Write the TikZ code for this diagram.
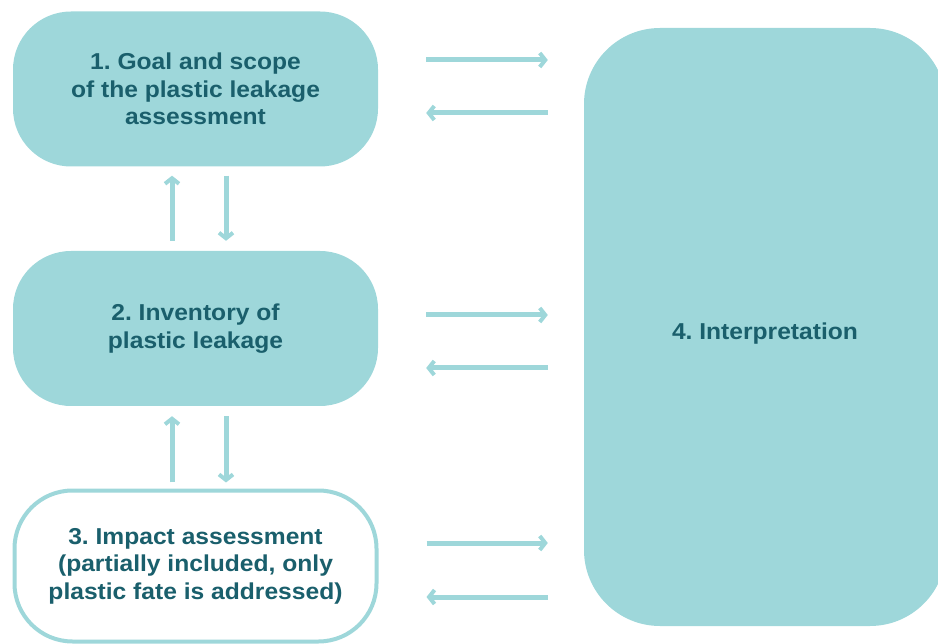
\documentclass[tikz,border=0pt]{standalone}
\usepackage{fontspec}
\setmainfont{Liberation Sans}[FakeStretch=1.07]
\usetikzlibrary{arrows.meta}
\definecolor{tealfill}{HTML}{9ED7DA}
\definecolor{tealtext}{HTML}{1A5F6C}
\frenchspacing
\tikzset{
  box/.style={rounded corners=58pt, minimum width=365pt, minimum height=155pt, inner sep=0pt,
    align=center, text=tealtext, font=\bfseries\fontsize{23pt}{27.5pt}\selectfont},
  filledbox/.style={box, fill=tealfill},
  outlinebox/.style={box, draw=tealfill, line width=4pt, fill=white, minimum width=362pt, minimum height=151pt},
  label4/.style={align=center, text=tealtext, font=\bfseries\fontsize{23pt}{27.5pt}\selectfont},
  flow/.style={draw=tealfill, line width=5pt, -{Straight Barb[length=5.5pt,width=14pt,line width=4pt]}},
}
\begin{document}
\begin{tikzpicture}[x=1pt,y=-1pt]
\useasboundingbox (0,0) rectangle (938,644);
\clip (0,0) rectangle (938,644);
\node[filledbox] (n1) at (195.5,89) {1. Goal and scope\\of the plastic leakage\\assessment};
\node[filledbox] (n2) at (195.5,328.5) {2. Inventory of\\plastic leakage};
\node[outlinebox] (n3) at (195.5,566) {3. Impact assessment\\(partially included, only\\plastic fate is addressed)};
\node[box, fill=tealfill, rounded corners=76pt, minimum width=362pt, minimum height=598pt] (n4) at (765,327) {};
\node[label4] (n4t) at ([yshift=-7pt]n4.center) {4. Interpretation};
% horizontal arrows
\foreach \n/\up/\dn in {n1/29/-24, n2/13.5/-39.5, n3/23/-31}{
  \draw[flow, shorten <=48pt, shorten >=36pt] ([yshift=\up pt]\n.east) -- ([yshift=\up pt]\n.east -| n4.west);
  \draw[flow, shorten <=36pt, shorten >=48pt] ([yshift=\dn pt]\n.east -| n4.west) -- ([yshift=\dn pt]\n.east);
}
% vertical arrows
\draw[flow, shorten <=10pt, shorten >=9pt] ([xshift=-23.5pt]n2.north) -- ([xshift=-23.5pt]n1.south);
\draw[flow, shorten <=9pt, shorten >=10pt] ([xshift=30.5pt]n1.south) -- ([xshift=30.5pt]n2.north);
\draw[flow, shorten <=6pt, shorten >=10pt] ([xshift=-23.5pt]n3.north) -- ([xshift=-23.5pt]n2.south);
\draw[flow, shorten <=10pt, shorten >=6pt] ([xshift=30.5pt]n2.south) -- ([xshift=30.5pt]n3.north);
\end{tikzpicture}
\end{document}
